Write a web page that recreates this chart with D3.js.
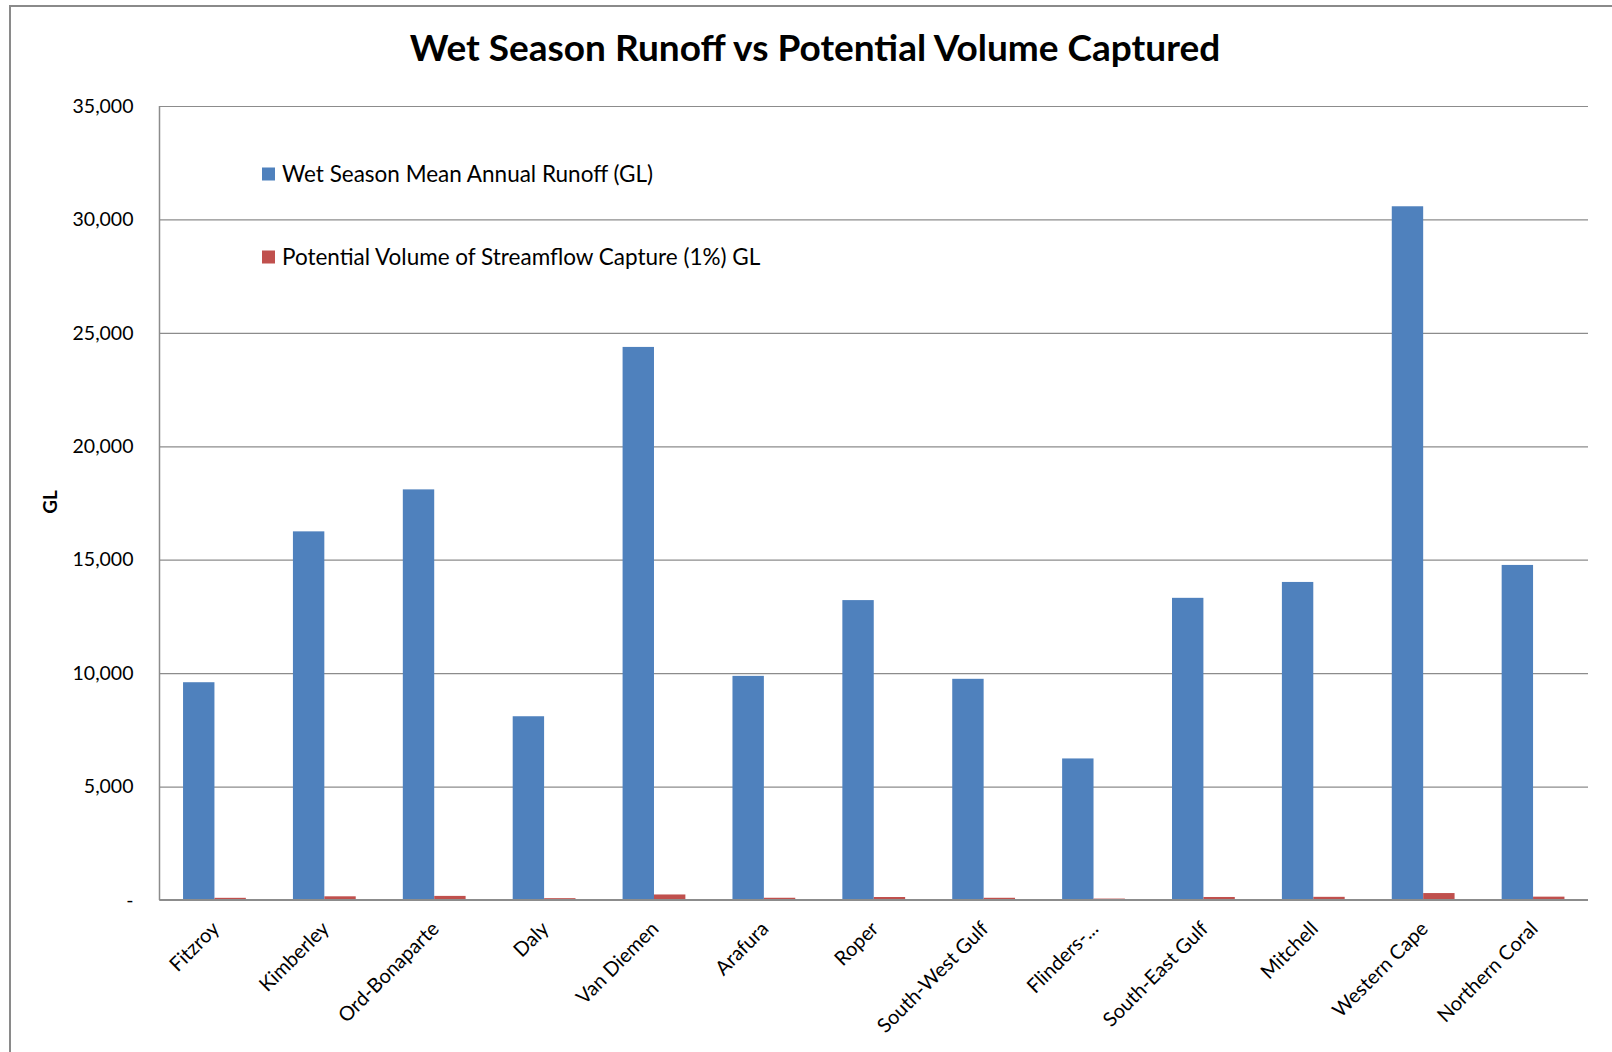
<html>
<head>
  <meta charset="UTF-8">
  <title>Wet Season Runoff vs Potential Volume Captured</title>
  <script src="https://cdn.jsdelivr.net/npm/d3@7/dist/d3.min.js"></script>
  <style>
    body { margin: 0; background: #fff; }
    text { font-family: Lato, "Open Sans", sans-serif; fill: #000; }
  </style>
</head>
<body>
  <div id="chart"></div>
  <script>
  // ---------------------------------------------------
  // data
  // ---------------------------------------------------
  var regions = ["Fitzroy", "Kimberley", "Ord-Bonaparte", "Daly", "Van Diemen", "Arafura",
    "Roper", "South-West Gulf", "Flinders-...", "South-East Gulf", "Mitchell",
    "Western Cape", "Northern Coral"];
  var runoff = [9600, 16250, 18100, 8100, 24380, 9880, 13220, 9750, 6240, 13320, 14020, 30580, 14770];
  var capture = [96, 163, 181, 81, 244, 99, 132, 98, 62, 133, 140, 306, 148];
  var seriesNames = ["Wet Season Mean Annual Runoff (GL)", "Potential Volume of Streamflow Capture (1%) GL"];
  var seriesColors = ["#4F81BD", "#C0504D"];
  var yTicks = [0, 5000, 10000, 15000, 20000, 25000, 30000, 35000];

  // ---------------------------------------------------
  // layout
  // ---------------------------------------------------
  var W = 1612, H = 1052;
  var plot = { left: 159.5, right: 1588, top: 106, bottom: 900 };

  var svg = d3.select("#chart").append("svg")
    .attr("width", W)
    .attr("height", H);

  svg.append("rect").attr("width", W).attr("height", H).attr("fill", "#fff");

  // outer chart border (cut off on the right and bottom)
  svg.append("rect")
    .attr("x", 10).attr("y", 6)
    .attr("width", W + 20).attr("height", H + 20)
    .attr("fill", "none")
    .attr("stroke", "#8a8a8a")
    .attr("stroke-width", 2);

  var x = d3.scaleBand().domain(regions).range([plot.left, plot.right]);
  var xs = d3.scaleBand().domain([0, 1]).range([0, x.bandwidth()]).paddingOuter(0.75);
  var y = d3.scaleLinear().domain([0, 35000]).range([plot.bottom, plot.top]);

  // gridlines
  var yAxis = d3.axisLeft(y)
    .tickValues(yTicks)
    .tickSize(-(plot.right - plot.left))
    .tickPadding(26)
    .tickFormat(function (d) { return d === 0 ? "-" : d3.format(",")(d); });

  var gy = svg.append("g")
    .attr("transform", "translate(" + plot.left + ",0)")
    .call(yAxis);
  gy.select(".domain").remove();
  gy.selectAll("line").attr("stroke", "#8c8c8c").attr("stroke-width", 1.2);
  gy.selectAll("text").attr("font-size", "19.5px").attr("fill", "#000");

  // left axis line
  svg.append("line")
    .attr("x1", plot.left).attr("x2", plot.left)
    .attr("y1", plot.top).attr("y2", plot.bottom)
    .attr("stroke", "#8c8c8c").attr("stroke-width", 1.5);

  // bars
  var groups = svg.append("g").selectAll("g")
    .data(regions)
    .enter().append("g")
    .attr("transform", function (d) { return "translate(" + x(d) + ",0)"; });

  groups.selectAll("rect")
    .data(function (d, i) { return [runoff[i], capture[i]]; })
    .enter().append("rect")
    .attr("x", function (d, j) { return xs(j); })
    .attr("width", xs.bandwidth())
    .attr("y", function (d) { return y(d); })
    .attr("height", function (d) { return plot.bottom - y(d); })
    .attr("fill", function (d, j) { return seriesColors[j]; });

  // base line
  svg.append("line")
    .attr("x1", plot.left).attr("x2", plot.right)
    .attr("y1", plot.bottom).attr("y2", plot.bottom)
    .attr("stroke", "#8c8c8c").attr("stroke-width", 2);

  // x labels, rotated
  svg.append("g").selectAll("text")
    .data(regions)
    .enter().append("text")
    .attr("transform", function (d) {
      return "translate(" + (x(d) + x.bandwidth() / 2 + 6) + "," + (plot.bottom + 30) + ") rotate(-45)";
    })
    .attr("text-anchor", "end")
    .attr("font-size", "20px")
    .text(function (d) { return d; });

  // y axis title
  svg.append("text")
    .attr("transform", "translate(57,502) rotate(-90)")
    .attr("text-anchor", "middle")
    .attr("font-size", "19px")
    .attr("font-weight", "bold")
    .text("GL");

  // title
  svg.append("text")
    .attr("x", 815).attr("y", 61)
    .attr("text-anchor", "middle")
    .attr("font-size", "37px")
    .attr("font-weight", "bold")
    .text("Wet Season Runoff vs Potential Volume Captured");

  // legend
  var legend = svg.append("g").selectAll("g")
    .data(seriesNames)
    .enter().append("g")
    .attr("transform", function (d, i) { return "translate(262," + (174 + i * 83) + ")"; });

  legend.append("rect")
    .attr("x", 0).attr("y", -6.5)
    .attr("width", 13).attr("height", 13)
    .attr("fill", function (d, i) { return seriesColors[i]; });

  legend.append("text")
    .attr("x", 20).attr("dy", "0.35em")
    .attr("font-size", "22.5px")
    .text(function (d) { return d; });
  </script>
</body>
</html>
